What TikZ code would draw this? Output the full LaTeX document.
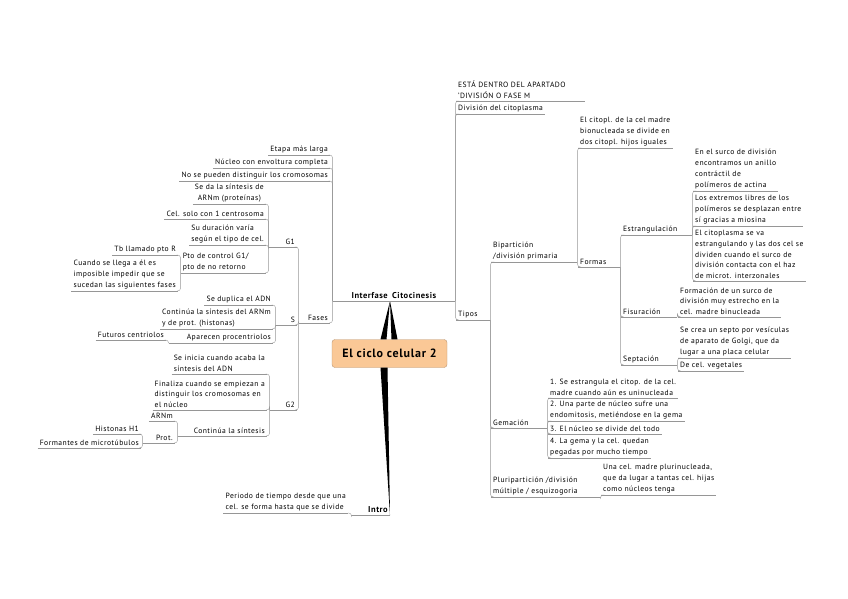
\documentclass[tikz,border=0pt]{standalone}
\usepackage{fontspec}
\setmainfont[LetterSpace=6]{PT Sans}
\usepackage{tikz}
\usetikzlibrary{positioning}
\definecolor{linkGray}{RGB}{150,150,150}
\definecolor{coreFill}{RGB}{250,200,150}
\definecolor{coreLine}{RGB}{185,150,115}
\tikzset{
  leaf/.style={inner xsep=2pt, inner ysep=2pt, align=left, font=\fontsize{7.6}{10.8}\selectfont},
  mainleaf/.style={leaf, font=\fontsize{8.5}{10}\selectfont\bfseries},
  corebox/.style={draw=coreLine, fill=coreFill, rounded corners=3pt, minimum width=115pt, minimum height=28pt, font=\fontsize{12}{14}\selectfont\bfseries},
  link/.style={draw=linkGray, rounded corners=3pt},
  wedge/.style={fill=black}
}
\begin{document}
\begin{tikzpicture}[x=1pt, y=-1pt]
        \useasboundingbox (0,0) rectangle (848,599);
        % centro
        \node[corebox] (ciclo) at (389.5,353.5) {El ciclo celular 2};
        \node[mainleaf, anchor=south east, text width=53pt, align=right] (interfase) at (390,301) {Interfase};
        \node[mainleaf, anchor=south west, text width=61pt] (citocinesis) at (390,301) {Citocinesis};
        \node[mainleaf, anchor=south east, text width=34pt, align=right] (intro) at (390,515) {Intro};
        \fill[wedge] ([xshift=-9pt]ciclo.north) -- (interfase.south east) -- ([xshift=-3pt]ciclo.north) -- cycle;
        \fill[wedge] ([xshift=2pt]ciclo.north) -- (citocinesis.south west) -- ([xshift=8pt]ciclo.north) -- cycle;
        \fill[wedge] ([xshift=-9pt]ciclo.south) -- (intro.south east) -- ([xshift=-2pt]ciclo.south) -- cycle;

        % interfase
        \node[leaf, anchor=south east] (etapa) at (330,155) {Etapa más larga};
        \node[leaf, anchor=south east] (nucleo) at (330,168) {Núcleo con envoltura completa};
        \node[leaf, anchor=south east] (nopueden) at (330,181) {No se pueden distinguir los cromosomas};
        \node[leaf, anchor=south east, text width=27pt, align=right] (fases) at (330,323) {Fases};
        \node[leaf, anchor=south east, text width=24pt, align=right] (g1) at (297,247) {G1};
        \node[leaf, anchor=south east, text width=17pt, align=right] (s) at (297,325) {S};
        \node[leaf, anchor=south east, text width=23pt, align=right] (g2) at (297,410) {G2};
        \node[leaf, anchor=south east, align=center] (sedaARNm) at (266,204) {Se da la síntesis de\\ARNm (proteínas)};
        \node[leaf, anchor=south east] (celsolo) at (266,219) {Cel. solo con 1 centrosoma};
        \node[leaf, anchor=south east] (duracion) at (266,245) {Su duración varía\\según el tipo de cel.};
        \node[leaf, anchor=south east, text width=81pt] (ptocontrol) at (266,273) {Pto de control G1/\\pto de no retorno};
        \node[leaf, anchor=south east] (tbllamado) at (178,255) {Tb llamado pto R};
        \node[leaf, anchor=south east] (cuandollega) at (178,291) {Cuando se llega a él es\\imposible impedir que se\\sucedan las siguientes fases};
        \node[leaf, anchor=south east] (duplica) at (273,305) {Se duplica el ADN};
        \node[leaf, anchor=south east] (continua) at (273,329) {Continúa la síntesis del ARNm\\y de prot. (histonas)};
        \node[leaf, anchor=south east, text width=100pt, align=right] (aparecen) at (273,343) {Aparecen procentriolos};
        \node[leaf, anchor=south east] (futuros) at (166,340) {Futuros centriolos};
        \node[leaf, anchor=south east] (seinicia) at (267,374) {Se inicia cuando acaba la\\síntesis del ADN};
        \node[leaf, anchor=south east] (finaliza) at (267,410) {Finaliza cuando se empiezan a\\distinguir los cromosomas en\\el núcleo};
        \node[leaf, anchor=south east, text width=85pt, align=right] (contsint) at (267,436) {Continúa la síntesis};
        \node[leaf, anchor=south east] (arnm) at (175,421) {ARNm};
        \node[leaf, anchor=south east, text width=28pt, align=right] (prot) at (175,443) {Prot.};
        \node[leaf, anchor=south east] (histonas) at (141,434) {Histonas H1};
        \node[leaf, anchor=south east] (formantes) at (141,448) {Formantes de microtúbulos};
        \node[leaf, anchor=south east] (periodo) at (348,513) {Periodo de tiempo desde que una\\cel. se forma hasta que se divide};

        % citocinesis
        \node[leaf, anchor=south west, text width=125pt] (esta) at (456,101) {ESTÁ DENTRO DEL APARTADO\\'DIVISIÓN O FASE M};
        \node[leaf, anchor=south west] (divcit) at (456,114) {División del citoplasma};
        \node[leaf, anchor=south west, text width=30pt] (tipos) at (456,320) {Tipos};
        \node[leaf, anchor=south west, text width=82pt] (biparticion) at (491,262) {Bipartición\\/división primaria};
        \node[leaf, anchor=south west, text width=52pt] (gemacion) at (491,428) {Gemación};
        \node[leaf, anchor=south west, text width=105pt] (pluri) at (491,497) {Pluripartición /división\\múltiple / esquizogoria};
        \node[leaf, anchor=south west] (citopl) at (578,148) {El citopl. de la cel madre\\bionucleada se divide en\\dos citopl. hijos iguales};
        \node[leaf, anchor=south west, text width=38pt] (formas) at (578,267) {Formas};
        \node[leaf, anchor=south west, text width=67pt] (estrang) at (621,235) {Estrangulación};
        \node[leaf, anchor=south west, text width=52pt] (fisur) at (621,317) {Fisuración};
        \node[leaf, anchor=south west, text width=52pt] (septa) at (621,365) {Septación};
        \node[leaf, anchor=south west] (surco) at (693,191) {En el surco de división\\encontramos un anillo\\contráctil de\\polímeros de actina};
        \node[leaf, anchor=south west] (extremos) at (693,226) {Los extremos libres de los\\polímeros se desplazan entre\\sí gracias a miosina};
        \node[leaf, anchor=south west] (estrangulando) at (693,281) {El citoplasma se va\\estrangulando y las dos cel se\\dividen cuando el surco de\\división contacta con el haz\\de microt. interzonales};
        \node[leaf, anchor=south west] (formacion) at (678,317) {Formación de un surco de\\división muy estrecho en la\\cel. madre binucleada};
        \node[leaf, anchor=south west] (septo) at (678,358) {Se crea un septo por vesículas\\de aparato de Golgi, que da\\lugar a una placa celular};
        \node[leaf, anchor=south west] (vegetales) at (678,371) {De cel. vegetales};
        \node[leaf, anchor=south west] (gemuno) at (548,398) {1. Se estrangula el citop. de la cel.\\madre cuando aún es uninucleada};
        \node[leaf, anchor=south west] (gemdos) at (548,421) {2. Una parte de núcleo sufre una\\endomitosis, metiéndose en la gema};
        \node[leaf, anchor=south west] (gemtres) at (548,434) {3. El núcleo se divide del todo};
        \node[leaf, anchor=south west] (gemcuatro) at (548,458) {4. La gema y la cel. quedan\\pegadas por mucho tiempo};
        \node[leaf, anchor=south west] (una) at (601,495) {Una cel. madre plurinucleada,\\que da lugar a tantas cel. hijas\\como núcleos tenga};

        % subrayados
        \foreach \n in {interfase,citocinesis,intro,etapa,nucleo,nopueden,fases,g1,s,g2,sedaARNm,celsolo,duracion,ptocontrol,tbllamado,cuandollega,duplica,continua,aparecen,futuros,seinicia,finaliza,contsint,arnm,prot,histonas,formantes,periodo,esta,divcit,tipos,biparticion,gemacion,pluri,citopl,formas,estrang,fisur,septa,surco,extremos,estrangulando,formacion,septo,vegetales,gemuno,gemdos,gemtres,gemcuatro,una}
          \draw[link] (\n.south west) -- (\n.south east);

        % ramas izquierda
        \foreach \c/\p in {etapa/interfase,nucleo/interfase,nopueden/interfase,fases/interfase,g1/fases,s/fases,g2/fases,sedaARNm/g1,celsolo/g1,duracion/g1,ptocontrol/g1,tbllamado/ptocontrol,cuandollega/ptocontrol,duplica/s,continua/s,aparecen/s,futuros/aparecen,seinicia/g2,finaliza/g2,contsint/g2,arnm/contsint,prot/contsint,histonas/prot,formantes/prot,periodo/intro}
          \draw[link] (\c.south east) -| (\p.south west);

        % ramas derecha
        \foreach \p/\c in {citocinesis/esta,citocinesis/divcit,citocinesis/tipos,tipos/biparticion,tipos/gemacion,tipos/pluri,biparticion/citopl,biparticion/formas,formas/estrang,formas/fisur,formas/septa,estrang/surco,estrang/extremos,estrang/estrangulando,fisur/formacion,septa/septo,septa/vegetales,gemacion/gemuno,gemacion/gemdos,gemacion/gemtres,gemacion/gemcuatro,pluri/una}
          \draw[link] (\p.south east) |- (\c.south west);
      \end{tikzpicture}
\end{document}
